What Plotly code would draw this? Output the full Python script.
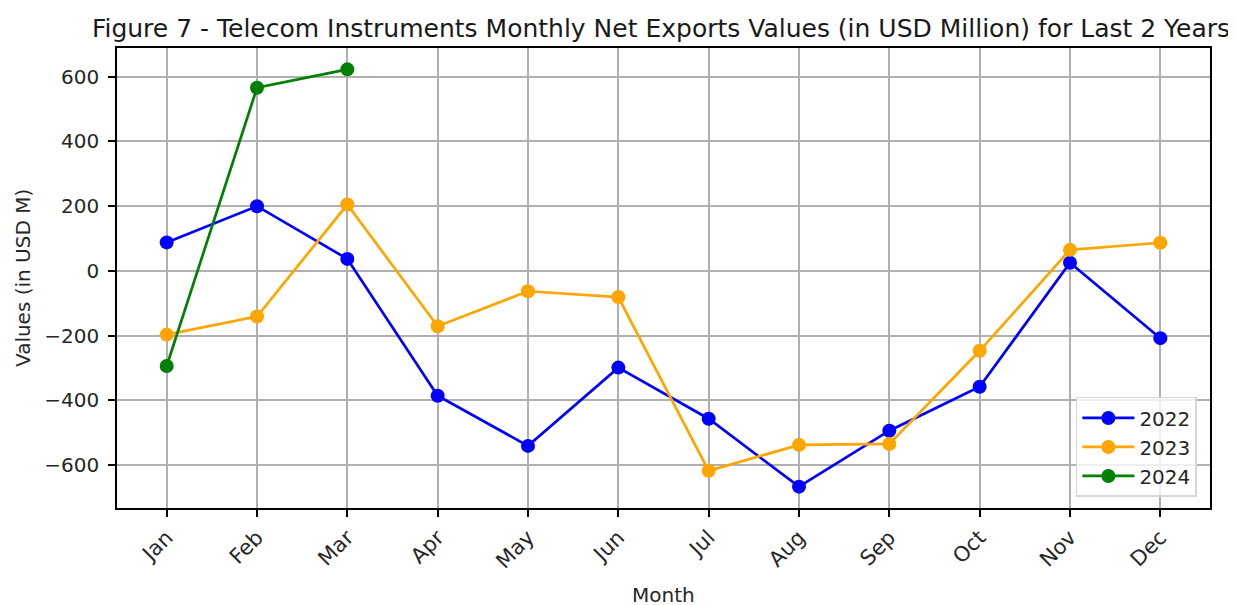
import plotly.graph_objects as go

months = ["Jan", "Feb", "Mar", "Apr", "May", "Jun", "Jul", "Aug", "Sep", "Oct", "Nov", "Dec"]
v2022 = [88, 200, 37, -386, -541, -299, -457, -667, -494, -358, 25, -208]
v2023 = [-197, -141, 205, -171, -63, -81, -618, -538, -535, -247, 65, 87]
v2024 = [-294, 566, 623]
y_ticks = [-600, -400, -200, 0, 200, 400, 600]

series = [("2022", v2022, "blue"), ("2023", v2023, "orange"), ("2024", v2024, "green")]

fig = go.Figure()
for name, vals, col in series:
    fig.add_trace(go.Scatter(
        x=list(range(len(vals))), y=vals, name=name, mode="lines+markers",
        line=dict(color=col, width=2.7), marker=dict(color=col, size=14),
    ))

font = "DejaVu Sans"
fig.update_layout(
    width=1236, height=605,
    margin=dict(l=109, r=34, t=40, b=105),
    paper_bgcolor="white", plot_bgcolor="white",
    font=dict(family=font, color="#262626"),
    title=dict(text="Figure 7 - Telecom Instruments Monthly Net Exports Values (in USD Million) for Last 2 Years",
               x=0.5283, xanchor="center", y=0.967, yanchor="middle", font=dict(size=25, color="#1a1a1a")),
    showlegend=True,
    legend=dict(x=0.988, y=0.024, xanchor="right", yanchor="bottom",
                bgcolor="rgba(255,255,255,0.8)", bordercolor="#d6d6d6", borderwidth=1.5,
                font=dict(size=20), tracegroupgap=0, itemwidth=52),
    annotations=[
        dict(text="Month", xref="paper", yref="paper", x=0.5, y=-0.189,
             xanchor="center", yanchor="middle", showarrow=False, font=dict(size=20)),
        dict(text="Values (in USD M)", xref="paper", yref="paper", x=-0.086, y=0.5,
             xanchor="center", yanchor="middle", showarrow=False, textangle=-90, font=dict(size=20)),
    ],
)
fig.update_xaxes(
    range=[-0.55, 11.55], tickmode="array", tickvals=list(range(12)), ticktext=months,
    tickangle=-45, tickfont=dict(size=21, color="#262626"),
    showgrid=True, gridcolor="#b0b0b0", gridwidth=1.6,
    showline=True, linecolor="black", linewidth=1.7, mirror=True,
    ticks="outside", ticklen=7, tickwidth=1.7, tickcolor="black", zeroline=False,
)
fig.update_yaxes(
    range=[-733, 689], tickmode="array", tickvals=y_ticks,
    ticktext=[str(v).replace("-", "\u2212") for v in y_ticks],
    tickfont=dict(size=20, color="#262626"),
    showgrid=True, gridcolor="#b0b0b0", gridwidth=1.6,
    showline=True, linecolor="black", linewidth=1.7, mirror=True,
    ticks="outside", ticklen=7, tickwidth=1.7, tickcolor="black", zeroline=False,
    ticklabelstandoff=5,
)
fig.write_html("out.html")
